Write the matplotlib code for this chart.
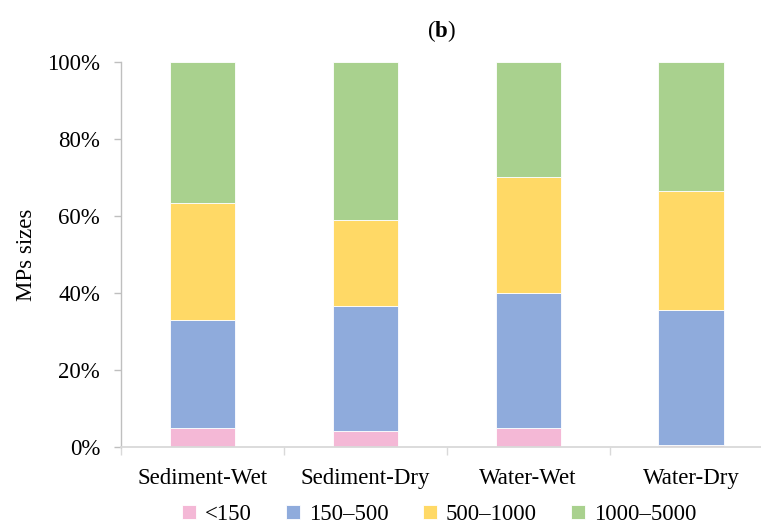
import matplotlib.pyplot as plt
import numpy as np
from matplotlib.ticker import FixedLocator, PercentFormatter

plt.rcParams['font.family'] = ['Liberation Serif', 'DejaVu Serif']
plt.rcParams['mathtext.fontset'] = 'custom'
plt.rcParams['mathtext.rm'] = 'Liberation Serif'
plt.rcParams['mathtext.bf'] = 'Liberation Serif:bold'

# Share of microplastics in each size class (µm), per sample group
groups = ['Sediment-Wet', 'Sediment-Dry', 'Water-Wet', 'Water-Dry']
size_classes = ['<150', '150\u2013500', '500\u20131000', '1000\u20135000']
lt150 = [5.1, 4.2, 5.1, 0.5]
s150_500 = [27.9, 32.5, 35.0, 35.1]
s500_1000 = [30.3, 22.3, 30.1, 30.9]
s1000_5000 = [36.7, 41.0, 29.8, 33.5]
colors = ['#F4B8D6', '#8FABDC', '#FFD966', '#A9D18E']

fs = 16.5

fig = plt.figure(figsize=(7.61, 5.30), dpi=100)
ax = fig.add_axes([0.159, 0.156, 0.841, 0.727])

x = np.arange(len(groups))
bottom = np.zeros(len(groups))
for label, vals, c in zip(size_classes, [lt150, s150_500, s500_1000, s1000_5000], colors):
	ax.bar(x, vals, width=0.4, bottom=bottom, color=c, edgecolor='white', linewidth=0.6, label=label)
	bottom += np.array(vals)

ax.set_ylim(0, 100)
ax.set_xlim(-0.5, 3.43)
ax.yaxis.set_major_formatter(PercentFormatter(decimals=0))
ax.set_yticks(np.arange(0, 101, 20))
ax.set_xticks(x)
ax.set_xticklabels(groups)
ax.xaxis.set_minor_locator(FixedLocator(np.arange(-0.5, 3.5, 1.0)))
ax.tick_params(axis='x', which='major', length=0, labelsize=fs, pad=15)
ax.tick_params(axis='x', which='minor', length=6, color='#D9D9D9', width=1)
ax.tick_params(axis='y', length=5, color='#BFBFBF', width=1, labelsize=fs, pad=10)

for side in ['top', 'right']:
	ax.spines[side].set_visible(False)
ax.spines['left'].set_color('#BFBFBF')
ax.spines['bottom'].set_color('#D9D9D9')
ax.spines['left'].set_linewidth(1)
ax.spines['bottom'].set_linewidth(1.3)

ax.set_ylabel('MPs sizes', fontsize=fs, labelpad=7)
ax.set_title(r'($\mathbf{b}$)', fontsize=fs, pad=18)

fig.legend(loc='lower center', bbox_to_anchor=(0.577, -0.03), ncol=4, frameon=False,
	fontsize=fs, handlelength=0.6, handleheight=0.6, handletextpad=0.4, columnspacing=1.5)

plt.savefig('out.png', dpi=100)
